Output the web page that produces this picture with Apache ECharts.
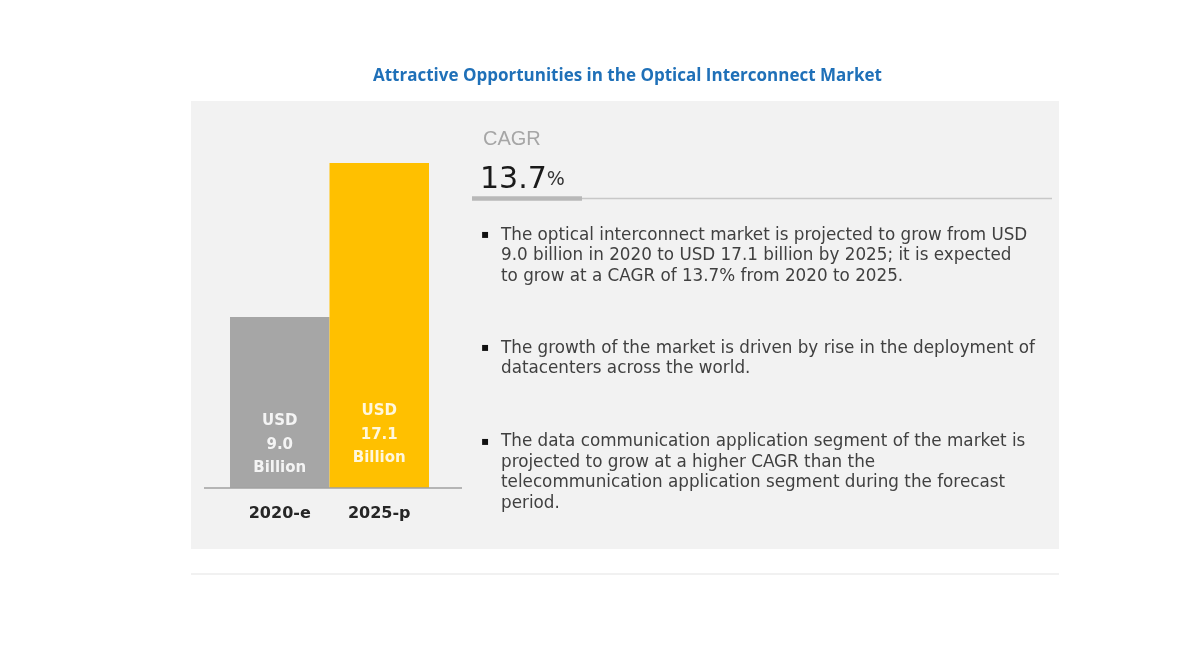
<!DOCTYPE html>
<html>
<head>
<meta charset="utf-8">
<style>html,body{margin:0;padding:0;background:#fff;}#chart{width:1200px;height:650px;}</style>
<script src="https://cdn.jsdelivr.net/npm/echarts@6/dist/echarts.min.js"></script>
</head>
<body>
<div id="chart"></div>
<script>
// ---- data ----
var titleText = 'Attractive Opportunities in the Optical Interconnect Market';
var categories = ['2020-e', '2025-p'];
var marketValues = [9.0, 17.1];          // USD billion
var barColors = ['#a6a6a6', '#ffc000'];
var cagrLabel = 'CAGR';
var cagrValue = '13.7';
var bullet1 = [
  'The optical interconnect market is projected to grow from USD',
  '9.0 billion in 2020 to USD 17.1 billion by 2025; it is expected',
  'to grow at a CAGR of 13.7% from 2020 to 2025.'
];
var bullet2 = [
  'The growth of the market is driven by rise in the deployment of',
  'datacenters across the world.'
];
var bullet3 = [
  'The data communication application segment of the market is',
  'projected to grow at a higher CAGR than the',
  'telecommunication application segment during the forecast',
  'period.'
];

var chart = echarts.init(document.getElementById('chart'));
var bodyFont = 'DejaVu Sans';
var lh = 20.5;

function bulletGroup(lines, top) {
  return [
    { type: 'text', x: 481, y: top + lh / 2, z: 5,
      style: { text: '\u25AA', fill: '#111', font: '12px ' + bodyFont, verticalAlign: 'middle' } },
    { type: 'text', x: 501, y: top, z: 5,
      style: { text: lines.join('\n'), fill: '#404040', fontSize: 16.8, fontFamily: bodyFont,
               lineHeight: lh, verticalAlign: 'top' } }
  ];
}

var graphics = [
  { type: 'rect', z: -10, shape: { x: 191, y: 101, width: 868, height: 448 }, style: { fill: '#f2f2f2' } },
  { type: 'line', z: -10, shape: { x1: 191, y1: 574, x2: 1059, y2: 574 }, style: { stroke: '#ececec', lineWidth: 1.5 } },
  { type: 'line', z: 5, shape: { x1: 204, y1: 488, x2: 462, y2: 488 }, style: { stroke: '#a0a0a0', lineWidth: 1.5 } },
  { type: 'text', x: 483, y: 139, z: 5,
    style: { text: cagrLabel, fill: '#a6a6a6', fontSize: 20, fontFamily: 'Liberation Sans', verticalAlign: 'middle' } },
  { type: 'text', x: 480, y: 195, z: 5,
    style: { text: '{a|' + cagrValue + '}{b|%}', verticalAlign: 'bottom',
             rich: { a: { fontSize: 30, fontFamily: bodyFont, fill: '#1a1a1a' },
                     b: { fontSize: 19, fontFamily: bodyFont, fill: '#333' } } } },
  { type: 'line', z: 4, shape: { x1: 569, y1: 198.5, x2: 1052, y2: 198.5 }, style: { stroke: '#c8c8c8', lineWidth: 1.5 } },
  { type: 'line', z: 5, shape: { x1: 472, y1: 198.5, x2: 582, y2: 198.5 }, style: { stroke: '#b8b8b8', lineWidth: 4.5 } }
].concat(bulletGroup(bullet1, 225), bulletGroup(bullet2, 338), bulletGroup(bullet3, 431.5));

var labelDist = [8, 18];
var labelColors = ['#f4f4f4', '#fff7dd'];

chart.setOption({
  animation: false,
  backgroundColor: '#ffffff',
  title: {
    text: titleText, left: 368, top: 63,
    textStyle: { color: '#1f70b8', fontSize: 17, fontWeight: 'bold', fontFamily: 'Open Sans' }
  },
  grid: { left: 230, right: 771, top: 163, bottom: 162 },
  xAxis: {
    type: 'category', data: categories,
    axisLine: { show: false }, axisTick: { show: false },
    axisLabel: { color: '#262626', fontSize: 16, fontWeight: 'bold', fontFamily: bodyFont, margin: 18 }
  },
  yAxis: { type: 'value', min: 0, max: 17.1, show: false, splitLine: { show: false } },
  graphic: graphics,
  series: [{
    type: 'bar',
    barCategoryGap: '0%',
    data: marketValues.map(function (v, i) {
      return {
        value: v,
        itemStyle: { color: barColors[i] },
        label: { distance: labelDist[i], color: labelColors[i] }
      };
    }),
    label: {
      show: true, position: 'insideBottom',
      fontSize: 15, fontWeight: 'bold', fontFamily: bodyFont, lineHeight: 23.5,
      formatter: function (p) { return 'USD\n' + p.value.toFixed(1) + '\nBillion'; }
    }
  }]
});
</script>
</body>
</html>
